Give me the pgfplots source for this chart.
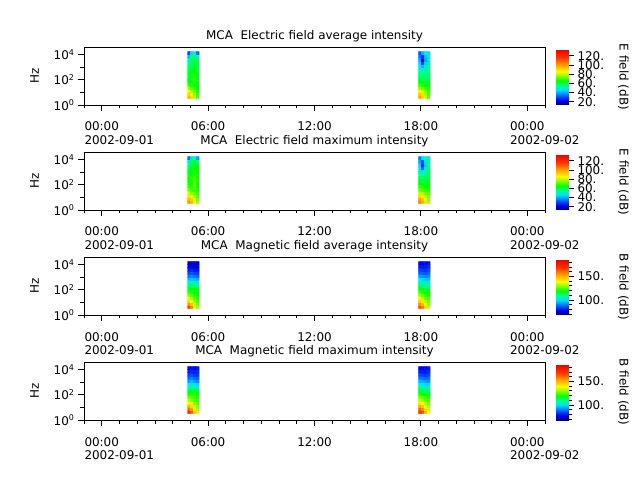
\documentclass[border=0pt]{standalone}
\usepackage{fontspec}
\setmainfont{DejaVu Sans}
\usepackage{pgfplots}
\pgfplotsset{compat=1.18}

% rainbow colour table used by the MCA spectrograms
\pgfplotsset{
  colormap={mcarainbow}{
    rgb255(0cm)=(0,0,130)
    rgb255(8cm)=(0,0,235)
    rgb255(18cm)=(0,110,255)
    rgb255(27cm)=(0,225,255)
    rgb255(35cm)=(0,255,140)
    rgb255(43cm)=(0,255,0)
    rgb255(52cm)=(140,255,0)
    rgb255(60cm)=(255,250,0)
    rgb255(72cm)=(255,160,0)
    rgb255(85cm)=(255,50,0)
    rgb255(100cm)=(230,0,0)
  },
}

\newcommand{\lbl}{\fontsize{12}{14}\selectfont}
% time label with an optional date line underneath
\newcommand{\tl}[2]{\begin{tabular}[t]{@{}l@{}}#1\\\rlap{#2}\end{tabular}}

% frequency axis is drawn in decades: y = log10(f / Hz)
\pgfplotsset{
  mcapanel/.style={
    scale only axis, width=461bp, height=58bp,
    anchor=south west,
    xmin=-1, xmax=25,
    ymin=0, ymax=4.62,
    axis on top,
    xtick={0,6,12,18,24},
    xticklabels={{\tl{00:00}{2002-09-01}},{\tl{06:00}{}},{\tl{12:00}{}},{\tl{18:00}{}},{\tl{00:00}{2002-09-02}}},
    minor xtick={-1,1,2,3,4,5,7,8,9,10,11,13,14,15,16,17,19,20,21,22,23,25},
    ytick={0,2,4},
    yticklabels={10\textsuperscript{0},10\textsuperscript{2},10\textsuperscript{4}},
    minor ytick={1,3},
    tick pos=left, tick align=outside,
    major tick length=6bp, minor tick length=3.5bp,
    every tick/.style={black, line width=0.8bp},
    axis line style={line width=0.8bp},
    ticklabel style={font=\lbl},
    xticklabel style={anchor=base, yshift=-20bp},
    label style={font=\lbl},
    title style={font=\lbl, yshift=-4bp},
    ylabel={Hz}, ylabel shift=8bp,
    colormap name=mcarainbow,
    colorbar,
    colorbar shift/.style={xshift=11bp, yshift=-2bp},
  },
  mcabar/.style={
    at={(parent axis.north east)}, anchor=north west,
    scale only axis, width=13bp, height=56bp,
    axis line style={draw=none},
    ytick pos=right, yticklabel pos=right,
    tick align=outside,
    major tick length=5bp, minor tick length=3bp,
    every tick/.style={black, line width=0.8bp},
    yticklabel style={font=\lbl},
    ylabel style={font=\lbl, rotate=180},
    ylabel shift=7bp,
  },
}

\begin{document}
\begin{tikzpicture}
\path[use as bounding box] (0,0) rectangle (640bp,480bp);

% ---------------- electric field, average ----------------
\begin{axis}[mcapanel, at={(84bp,375bp)},
  title={MCA\ \ Electric field average intensity},
  point meta min=13, point meta max=135,
  colorbar style={mcabar, ytick={20,40,60,80,100,120},
    yticklabels={20.,40.,60.,80.,100.,120.}, ylabel={E field (dB)}}]
\addplot[matrix plot*, mesh/cols=4, point meta=explicit] coordinates {
(4.92,0.625)[98] (5.08,0.625)[92] (5.25,0.625)[80] (5.41,0.625)[72]
(4.92,0.875)[92] (5.08,0.875)[88] (5.25,0.875)[78] (5.41,0.875)[70]
(4.92,1.125)[86] (5.08,1.125)[80] (5.25,1.125)[74] (5.41,1.125)[68]
(4.92,1.375)[78] (5.08,1.375)[72] (5.25,1.375)[70] (5.41,1.375)[66]
(4.92,1.625)[70] (5.08,1.625)[68] (5.25,1.625)[66] (5.41,1.625)[64]
(4.92,1.875)[66] (5.08,1.875)[64] (5.25,1.875)[68] (5.41,1.875)[63]
(4.92,2.125)[64] (5.08,2.125)[62] (5.25,2.125)[70] (5.41,2.125)[62]
(4.92,2.375)[62] (5.08,2.375)[63] (5.25,2.375)[68] (5.41,2.375)[64]
(4.92,2.625)[63] (5.08,2.625)[64] (5.25,2.625)[66] (5.41,2.625)[62]
(4.92,2.875)[60] (5.08,2.875)[62] (5.25,2.875)[65] (5.41,2.875)[60]
(4.92,3.125)[58] (5.08,3.125)[60] (5.25,3.125)[64] (5.41,3.125)[62]
(4.92,3.375)[55] (5.08,3.375)[60] (5.25,3.375)[62] (5.41,3.375)[60]
(4.92,3.625)[50] (5.08,3.625)[58] (5.25,3.625)[60] (5.41,3.625)[58]
(4.92,3.875)[42] (5.08,3.875)[55] (5.25,3.875)[58] (5.41,3.875)[52]
(4.92,4.125)[30] (5.08,4.125)[45] (5.25,4.125)[50] (5.41,4.125)[35]
};
\addplot[matrix plot*, mesh/cols=4, point meta=explicit] coordinates {
(17.95,0.625)[100] (18.11,0.625)[92] (18.27,0.625)[84] (18.44,0.625)[74]
(17.95,0.875)[94] (18.11,0.875)[90] (18.27,0.875)[80] (18.44,0.875)[72]
(17.95,1.125)[86] (18.11,1.125)[84] (18.27,1.125)[76] (18.44,1.125)[70]
(17.95,1.375)[76] (18.11,1.375)[74] (18.27,1.375)[70] (18.44,1.375)[68]
(17.95,1.625)[70] (18.11,1.625)[68] (18.27,1.625)[66] (18.44,1.625)[64]
(17.95,1.875)[66] (18.11,1.875)[64] (18.27,1.875)[62] (18.44,1.875)[62]
(17.95,2.125)[62] (18.11,2.125)[60] (18.27,2.125)[60] (18.44,2.125)[60]
(17.95,2.375)[58] (18.11,2.375)[57] (18.27,2.375)[58] (18.44,2.375)[58]
(17.95,2.625)[55] (18.11,2.625)[54] (18.27,2.625)[55] (18.44,2.625)[56]
(17.95,2.875)[52] (18.11,2.875)[50] (18.27,2.875)[52] (18.44,2.875)[55]
(17.95,3.125)[48] (18.11,3.125)[42] (18.27,3.125)[48] (18.44,3.125)[54]
(17.95,3.375)[45] (18.11,3.375)[30] (18.27,3.375)[44] (18.44,3.375)[52]
(17.95,3.625)[40] (18.11,3.625)[22] (18.27,3.625)[40] (18.44,3.625)[50]
(17.95,3.875)[36] (18.11,3.875)[28] (18.27,3.875)[42] (18.44,3.875)[50]
(17.95,4.125)[32] (18.11,4.125)[42] (18.27,4.125)[46] (18.44,4.125)[48]
};
\end{axis}

% ---------------- electric field, maximum ----------------
\begin{axis}[mcapanel, at={(84bp,270bp)},
  title={MCA\ \ Electric field maximum intensity},
  point meta min=13, point meta max=135,
  colorbar style={mcabar, ytick={20,40,60,80,100,120},
    yticklabels={20.,40.,60.,80.,100.,120.}, ylabel={E field (dB)}}]
\addplot[matrix plot*, mesh/cols=4, point meta=explicit] coordinates {
(4.92,0.625)[104] (5.08,0.625)[97] (5.25,0.625)[86] (5.41,0.625)[78]
(4.92,0.875)[97] (5.08,0.875)[93] (5.25,0.875)[83] (5.41,0.875)[75]
(4.92,1.125)[90] (5.08,1.125)[85] (5.25,1.125)[79] (5.41,1.125)[72]
(4.92,1.375)[82] (5.08,1.375)[76] (5.25,1.375)[74] (5.41,1.375)[70]
(4.92,1.625)[74] (5.08,1.625)[72] (5.25,1.625)[70] (5.41,1.625)[68]
(4.92,1.875)[70] (5.08,1.875)[68] (5.25,1.875)[72] (5.41,1.875)[67]
(4.92,2.125)[68] (5.08,2.125)[66] (5.25,2.125)[74] (5.41,2.125)[66]
(4.92,2.375)[66] (5.08,2.375)[67] (5.25,2.375)[72] (5.41,2.375)[68]
(4.92,2.625)[67] (5.08,2.625)[68] (5.25,2.625)[70] (5.41,2.625)[66]
(4.92,2.875)[64] (5.08,2.875)[66] (5.25,2.875)[69] (5.41,2.875)[64]
(4.92,3.125)[62] (5.08,3.125)[64] (5.25,3.125)[68] (5.41,3.125)[66]
(4.92,3.375)[59] (5.08,3.375)[64] (5.25,3.375)[66] (5.41,3.375)[64]
(4.92,3.625)[54] (5.08,3.625)[62] (5.25,3.625)[64] (5.41,3.625)[62]
(4.92,3.875)[46] (5.08,3.875)[59] (5.25,3.875)[62] (5.41,3.875)[56]
(4.92,4.125)[34] (5.08,4.125)[49] (5.25,4.125)[54] (5.41,4.125)[40]
};
\addplot[matrix plot*, mesh/cols=4, point meta=explicit] coordinates {
(17.95,0.625)[106] (18.11,0.625)[98] (18.27,0.625)[90] (18.44,0.625)[80]
(17.95,0.875)[100] (18.11,0.875)[95] (18.27,0.875)[85] (18.44,0.875)[77]
(17.95,1.125)[91] (18.11,1.125)[89] (18.27,1.125)[81] (18.44,1.125)[75]
(17.95,1.375)[81] (18.11,1.375)[79] (18.27,1.375)[75] (18.44,1.375)[72]
(17.95,1.625)[74] (18.11,1.625)[72] (18.27,1.625)[70] (18.44,1.625)[68]
(17.95,1.875)[70] (18.11,1.875)[68] (18.27,1.875)[66] (18.44,1.875)[66]
(17.95,2.125)[66] (18.11,2.125)[64] (18.27,2.125)[64] (18.44,2.125)[64]
(17.95,2.375)[62] (18.11,2.375)[61] (18.27,2.375)[62] (18.44,2.375)[62]
(17.95,2.625)[59] (18.11,2.625)[58] (18.27,2.625)[59] (18.44,2.625)[60]
(17.95,2.875)[56] (18.11,2.875)[54] (18.27,2.875)[56] (18.44,2.875)[59]
(17.95,3.125)[52] (18.11,3.125)[46] (18.27,3.125)[52] (18.44,3.125)[58]
(17.95,3.375)[49] (18.11,3.375)[34] (18.27,3.375)[48] (18.44,3.375)[56]
(17.95,3.625)[44] (18.11,3.625)[26] (18.27,3.625)[44] (18.44,3.625)[54]
(17.95,3.875)[40] (18.11,3.875)[32] (18.27,3.875)[46] (18.44,3.875)[54]
(17.95,4.125)[36] (18.11,4.125)[46] (18.27,4.125)[50] (18.44,4.125)[52]
};
\end{axis}

% ---------------- magnetic field, average ----------------
\begin{axis}[mcapanel, at={(84bp,165bp)},
  title={MCA\ \ Magnetic field average intensity},
  point meta min=68, point meta max=187,
  colorbar style={mcabar, ytick={100,150}, yticklabels={100.,150.},
    minor ytick={70,80,90,110,120,130,140,160,170,180}, ylabel={B field (dB)}}]
\addplot[matrix plot*, mesh/cols=4, point meta=explicit] coordinates {
(4.92,0.625)[168] (5.08,0.625)[158] (5.25,0.625)[142] (5.41,0.625)[132]
(4.92,0.875)[155] (5.08,0.875)[148] (5.25,0.875)[136] (5.41,0.875)[128]
(4.92,1.125)[145] (5.08,1.125)[140] (5.25,1.125)[130] (5.41,1.125)[125]
(4.92,1.375)[136] (5.08,1.375)[132] (5.25,1.375)[126] (5.41,1.375)[122]
(4.92,1.625)[128] (5.08,1.625)[126] (5.25,1.625)[122] (5.41,1.625)[120]
(4.92,1.875)[122] (5.08,1.875)[122] (5.25,1.875)[120] (5.41,1.875)[118]
(4.92,2.125)[116] (5.08,2.125)[118] (5.25,2.125)[118] (5.41,2.125)[116]
(4.92,2.375)[110] (5.08,2.375)[112] (5.25,2.375)[112] (5.41,2.375)[110]
(4.92,2.625)[103] (5.08,2.625)[106] (5.25,2.625)[104] (5.41,2.625)[102]
(4.92,2.875)[96] (5.08,2.875)[98] (5.25,2.875)[97] (5.41,2.875)[95]
(4.92,3.125)[90] (5.08,3.125)[92] (5.25,3.125)[90] (5.41,3.125)[88]
(4.92,3.375)[85] (5.08,3.375)[87] (5.25,3.375)[85] (5.41,3.375)[84]
(4.92,3.625)[80] (5.08,3.625)[82] (5.25,3.625)[80] (5.41,3.625)[80]
(4.92,3.875)[76] (5.08,3.875)[78] (5.25,3.875)[77] (5.41,3.875)[78]
(4.92,4.125)[73] (5.08,4.125)[75] (5.25,4.125)[74] (5.41,4.125)[76]
};
\addplot[matrix plot*, mesh/cols=4, point meta=explicit] coordinates {
(17.95,0.625)[165] (18.11,0.625)[160] (18.27,0.625)[145] (18.44,0.625)[135]
(17.95,0.875)[156] (18.11,0.875)[150] (18.27,0.875)[140] (18.44,0.875)[130]
(17.95,1.125)[146] (18.11,1.125)[142] (18.27,1.125)[134] (18.44,1.125)[128]
(17.95,1.375)[138] (18.11,1.375)[134] (18.27,1.375)[128] (18.44,1.375)[124]
(17.95,1.625)[130] (18.11,1.625)[128] (18.27,1.625)[124] (18.44,1.625)[120]
(17.95,1.875)[124] (18.11,1.875)[122] (18.27,1.875)[120] (18.44,1.875)[118]
(17.95,2.125)[118] (18.11,2.125)[117] (18.27,2.125)[116] (18.44,2.125)[114]
(17.95,2.375)[112] (18.11,2.375)[111] (18.27,2.375)[110] (18.44,2.375)[108]
(17.95,2.625)[106] (18.11,2.625)[105] (18.27,2.625)[104] (18.44,2.625)[102]
(17.95,2.875)[100] (18.11,2.875)[99] (18.27,2.875)[98] (18.44,2.875)[97]
(17.95,3.125)[94] (18.11,3.125)[93] (18.27,3.125)[92] (18.44,3.125)[92]
(17.95,3.375)[88] (18.11,3.375)[88] (18.27,3.375)[87] (18.44,3.375)[88]
(17.95,3.625)[84] (18.11,3.625)[84] (18.27,3.625)[83] (18.44,3.625)[85]
(17.95,3.875)[80] (18.11,3.875)[80] (18.27,3.875)[80] (18.44,3.875)[82]
(17.95,4.125)[78] (18.11,4.125)[77] (18.27,4.125)[78] (18.44,4.125)[80]
};
\end{axis}

% ---------------- magnetic field, maximum ----------------
\begin{axis}[mcapanel, at={(84bp,60bp)},
  title={MCA\ \ Magnetic field maximum intensity},
  point meta min=68, point meta max=187,
  colorbar style={mcabar, ytick={100,150}, yticklabels={100.,150.},
    minor ytick={70,80,90,110,120,130,140,160,170,180}, ylabel={B field (dB)}}]
\addplot[matrix plot*, mesh/cols=4, point meta=explicit] coordinates {
(4.92,0.625)[174] (5.08,0.625)[164] (5.25,0.625)[148] (5.41,0.625)[136]
(4.92,0.875)[161] (5.08,0.875)[154] (5.25,0.875)[141] (5.41,0.875)[132]
(4.92,1.125)[150] (5.08,1.125)[145] (5.25,1.125)[135] (5.41,1.125)[129]
(4.92,1.375)[141] (5.08,1.375)[137] (5.25,1.375)[130] (5.41,1.375)[126]
(4.92,1.625)[133] (5.08,1.625)[130] (5.25,1.625)[126] (5.41,1.625)[124]
(4.92,1.875)[126] (5.08,1.875)[126] (5.25,1.875)[124] (5.41,1.875)[122]
(4.92,2.125)[120] (5.08,2.125)[122] (5.25,2.125)[122] (5.41,2.125)[120]
(4.92,2.375)[114] (5.08,2.375)[116] (5.25,2.375)[116] (5.41,2.375)[114]
(4.92,2.625)[107] (5.08,2.625)[110] (5.25,2.625)[108] (5.41,2.625)[106]
(4.92,2.875)[100] (5.08,2.875)[102] (5.25,2.875)[101] (5.41,2.875)[99]
(4.92,3.125)[94] (5.08,3.125)[96] (5.25,3.125)[94] (5.41,3.125)[92]
(4.92,3.375)[89] (5.08,3.375)[91] (5.25,3.375)[89] (5.41,3.375)[88]
(4.92,3.625)[84] (5.08,3.625)[86] (5.25,3.625)[84] (5.41,3.625)[84]
(4.92,3.875)[80] (5.08,3.875)[82] (5.25,3.875)[81] (5.41,3.875)[82]
(4.92,4.125)[77] (5.08,4.125)[79] (5.25,4.125)[78] (5.41,4.125)[80]
};
\addplot[matrix plot*, mesh/cols=4, point meta=explicit] coordinates {
(17.95,0.625)[172] (18.11,0.625)[166] (18.27,0.625)[150] (18.44,0.625)[140]
(17.95,0.875)[162] (18.11,0.875)[156] (18.27,0.875)[145] (18.44,0.875)[135]
(17.95,1.125)[151] (18.11,1.125)[147] (18.27,1.125)[139] (18.44,1.125)[132]
(17.95,1.375)[142] (18.11,1.375)[139] (18.27,1.375)[133] (18.44,1.375)[128]
(17.95,1.625)[134] (18.11,1.625)[132] (18.27,1.625)[128] (18.44,1.625)[124]
(17.95,1.875)[127] (18.11,1.875)[126] (18.27,1.875)[124] (18.44,1.875)[121]
(17.95,2.125)[121] (18.11,2.125)[120] (18.27,2.125)[119] (18.44,2.125)[117]
(17.95,2.375)[115] (18.11,2.375)[114] (18.27,2.375)[113] (18.44,2.375)[111]
(17.95,2.625)[108] (18.11,2.625)[108] (18.27,2.625)[107] (18.44,2.625)[105]
(17.95,2.875)[102] (18.11,2.875)[101] (18.27,2.875)[100] (18.44,2.875)[99]
(17.95,3.125)[96] (18.11,3.125)[95] (18.27,3.125)[94] (18.44,3.125)[93]
(17.95,3.375)[90] (18.11,3.375)[90] (18.27,3.375)[89] (18.44,3.375)[89]
(17.95,3.625)[85] (18.11,3.625)[85] (18.27,3.625)[84] (18.44,3.625)[85]
(17.95,3.875)[81] (18.11,3.875)[81] (18.27,3.875)[80] (18.44,3.875)[82]
(17.95,4.125)[78] (18.11,4.125)[78] (18.27,4.125)[78] (18.44,4.125)[80]
};
\end{axis}
\end{tikzpicture}
\end{document}
